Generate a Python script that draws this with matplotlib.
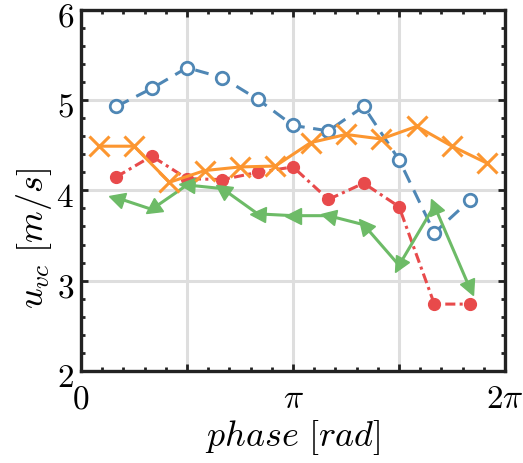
import numpy as np
import matplotlib as mpl
mpl.use('Agg')
import matplotlib.pyplot as plt
from matplotlib.markers import MarkerStyle
from matplotlib.transforms import Affine2D, ScaledTranslation

# phase positions (in units of pi/6)
k_main = np.arange(1, 12)
k_orange = np.arange(0, 12) + 0.5

blue_vals = [4.93, 5.13, 5.36, 5.25, 5.01, 4.72, 4.66, 4.93, 4.34, 3.53, 3.89]
red_vals = [4.15, 4.38, 4.13, 4.12, 4.20, 4.26, 3.90, 4.08, 3.82, 2.74, 2.74]
green_vals = [3.92, 3.79, 4.06, 4.02, 3.74, 3.72, 3.72, 3.62, 3.17, 3.83, 2.92]
orange_vals = [4.49, 4.49, 4.09, 4.22, 4.26, 4.27, 4.53, 4.62, 4.57, 4.71,
               4.49, 4.30]

x_main = k_main * np.pi / 6
x_orange = k_orange * np.pi / 6

c_blue = '#4f87b5'
c_red = '#e84a4b'
c_green = '#6dbb67'
c_orange = '#fc9630'

plt.rcParams['mathtext.fontset'] = 'cm'
plt.rcParams['font.family'] = 'serif'
plt.rcParams['font.serif'] = ['DejaVu Serif']

fig = plt.figure(figsize=(5.23, 4.63), dpi=100)
ax = fig.add_axes([0.155, 0.199, 0.8106, 0.7795])

ax.set_xlim(0, 2 * np.pi)
ax.set_ylim(2, 6)

# Grid
ax.set_xticks([0, np.pi / 2, np.pi, 3 * np.pi / 2, 2 * np.pi])
ax.set_xticklabels(['$0$', '', r'$\pi$', '', r'$2\pi$'])
ax.set_xticks(np.arange(0, 21) * np.pi / 10, minor=True)
ax.set_yticks([2, 3, 4, 5, 6])
ax.set_yticklabels(['$2$', '$3$', '$4$', '$5$', '$6$'])
ax.set_yticks(np.arange(2, 6.01, 0.2), minor=True)
ax.grid(True, which='major', color='#dedede', linewidth=2.2)
ax.set_axisbelow(True)

ax.tick_params(which='both', direction='in', top=True, right=True,
               labelsize=24, color='#222222')
ax.tick_params(which='major', length=5, width=2)
ax.tick_params(which='minor', length=3, width=2)
ax.tick_params(axis='x', pad=9)
ax.tick_params(axis='y', pad=5)
for sp in ax.spines.values():
    sp.set_linewidth(2.4)
    sp.set_color('#222222')

# nudge y tick labels down a little
shift = ScaledTranslation(0, -4 / 100, fig.dpi_scale_trans)
for lab in ax.get_yticklabels():
    lab.set_transform(lab.get_transform() + shift)

# Lines
ax.plot(x_main, blue_vals, color=c_blue, linestyle=(0, (4.5, 2.8)), lw=2.2,
        marker='o', markersize=9, markerfacecolor='white',
        markeredgewidth=2.0, zorder=3)
ax.plot(x_orange, orange_vals, color=c_orange, lw=2.2, marker='x',
        markersize=15, markeredgewidth=2.2, zorder=4)
ax.plot(x_main, red_vals, color=c_red, linestyle=(0, (3.3, 1.4, 1, 1.4)),
        lw=2.2, marker='o', markersize=8.5, zorder=3)
ax.plot(x_main, green_vals, color=c_green, lw=2.2, zorder=3)

# green arrowheads point back toward previous point
fig.canvas.draw()
pts = ax.transData.transform(np.column_stack([x_main, green_vals]))
for i in range(len(pts)):
    if i < len(pts) - 1:
        d = pts[i] - pts[i + 1]
    else:
        d = pts[i] - pts[i - 1]
    ang = np.degrees(np.arctan2(d[1], d[0]))
    m = MarkerStyle('>', transform=Affine2D().rotate_deg(ang))
    ax.plot(x_main[i], green_vals[i], marker=m, color=c_green,
            markersize=11, linestyle='none', zorder=3)

ax.set_xlabel('$phase\\ [rad]$', fontsize=26)
ax.set_ylabel('$u_{vc}\\ [m/s]$', fontsize=26)
ax.xaxis.set_label_coords(0.5, -0.186)
ax.yaxis.set_label_coords(-0.111, 0.366)
ax.xaxis.label.set_va('center')
ax.yaxis.label.set_va('center')

fig.savefig('out.png', dpi=100)
